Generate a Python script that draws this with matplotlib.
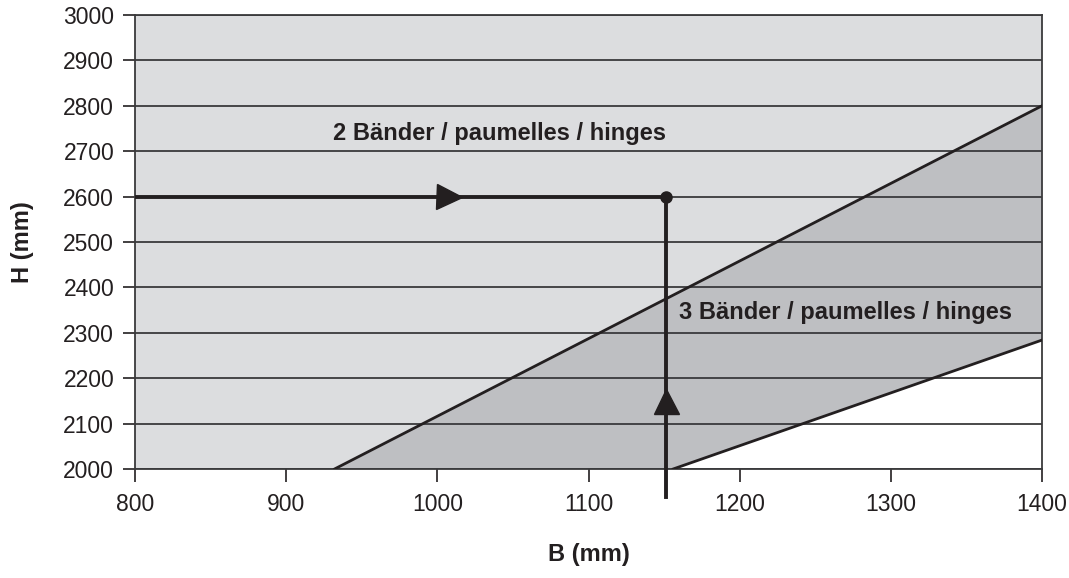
import matplotlib.pyplot as plt
from matplotlib.patches import Polygon

plt.rcParams['font.family'] = ['Liberation Sans', 'DejaVu Sans']

# boundary lines (B in mm, H in mm)
upper_b = [932, 1400]
upper_h = [2000, 2800]
lower_b = [1156, 1400]
lower_h = [2000, 2284]

# example reading
example_b = 1151
example_h = 2600
arrow_h_at = 1008
arrow_v_at = 2150
v_line_bottom = 1938

x_ticks = [800, 900, 1000, 1100, 1200, 1300, 1400]
y_ticks = [2000, 2100, 2200, 2300, 2400, 2500, 2600, 2700, 2800, 2900, 3000]

label_2 = '2 Bänder / paumelles / hinges'
label_3 = '3 Bänder / paumelles / hinges'

dark = '#231f20'
light_grey = '#dcdddf'
mid_grey = '#bebfc2'

fig = plt.figure(figsize=(10.69, 5.78), dpi=100)
ax = fig.add_axes([135 / 1069, 1 - 469 / 578, (1042 - 135) / 1069, (469 - 15) / 578])
ax.set_xlim(800, 1400)
ax.set_ylim(2000, 3000)

# regions
ax.add_patch(Polygon([(800, 2000), (upper_b[0], upper_h[0]), (upper_b[1], upper_h[1]),
                      (1400, 3000), (800, 3000)], closed=True, facecolor=light_grey,
                     edgecolor='none', zorder=0))
ax.add_patch(Polygon([(upper_b[0], upper_h[0]), (lower_b[0], lower_h[0]), (lower_b[1], lower_h[1]),
                      (upper_b[1], upper_h[1])], closed=True, facecolor=mid_grey,
                     edgecolor='none', zorder=0))

for t in y_ticks:
    ax.axhline(t, color='#3a3a3c', lw=1.3, zorder=1)

ax.plot(upper_b, upper_h, color=dark, lw=2, zorder=3)
ax.plot(lower_b, lower_h, color=dark, lw=2, zorder=3)

# reading example
ax.plot([800, example_b], [example_h, example_h], color=dark, lw=2.8, zorder=4)
ax.plot([example_b, example_b], [v_line_bottom, example_h], color=dark, lw=2.8,
        zorder=4, clip_on=False)
ax.plot(example_b, example_h, 'o', color=dark, ms=8, zorder=5)
ax.plot(arrow_h_at, example_h, marker='>', color=dark, ms=18, mec=dark, zorder=5)
ax.plot(example_b, arrow_v_at, marker='^', color=dark, ms=18, mec=dark, zorder=5)

ax.text(1041, 2738, label_2, fontsize=17, fontweight='bold', color=dark,
        ha='center', va='center', zorder=6)
ax.text(1270, 2345, label_3, fontsize=17, fontweight='bold', color=dark,
        ha='center', va='center', zorder=6)

ax.set_xticks(x_ticks)
ax.set_yticks(y_ticks)
ax.tick_params(axis='both', labelsize=16.5, colors=dark, length=9, width=1.2, pad=8)
ax.tick_params(axis='y', pad=6)
for s in ax.spines.values():
    s.set_color('#3a3a3c')
    s.set_linewidth(1.3)

ax.set_xlabel('B (mm)', fontsize=17, fontweight='bold', color=dark, labelpad=20)
ax.set_ylabel('H (mm)', fontsize=17, fontweight='bold', color=dark, labelpad=21)

fig.savefig('out.png', dpi=100)
